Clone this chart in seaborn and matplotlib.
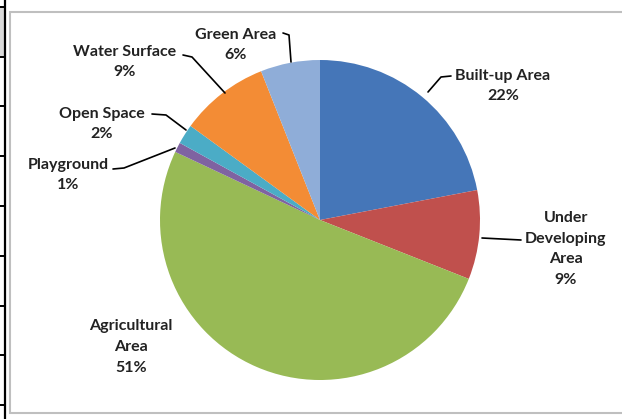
import matplotlib
matplotlib.use("Agg")
import matplotlib.pyplot as plt
from matplotlib.patches import Rectangle
from matplotlib.lines import Line2D
import seaborn as sns

# data
categories = ["Built-up Area", "Under Developing Area", "Agricultural Area", "Playground",
              "Open Space", "Water Surface", "Green Area"]
shares = [22, 9, 51, 1, 2, 9, 6]
slice_colors = ["#4576b8", "#c0504d", "#98ba55", "#7f63a1", "#4bacc6", "#f38c35", "#8fadd8"]

W, H = 622, 419
CX, CY, R = 320, 220, 160


def to_data(px, py):
    # pixel position in the picture -> pie axes coordinates
    return (px - CX) / R, (CY - py) / R


def main():
    sns.set_theme(style="white")
    plt.rcParams['font.family'] = ['Lato', 'DejaVu Sans']

    fig = plt.figure(figsize=(W / 100, H / 100), dpi=100)
    fig.patch.set_facecolor("white")

    # fragment of the table at the left edge
    fig.patches.append(Rectangle((0, 1 - 57 / H), 5 / W, 50 / H, transform=fig.transFigure,
                                 facecolor="#d9d9d9", edgecolor="none", zorder=-3))
    fig.lines.append(Line2D([5 / W, 5 / W], [0, 1], transform=fig.transFigure, color="black", lw=1.6))
    for y in [7, 57, 106, 156, 206, 256, 306, 355, 405]:
        fig.lines.append(Line2D([0, 5 / W], [1 - y / H, 1 - y / H], transform=fig.transFigure,
                                color="black", lw=1.4))

    # chart frame
    fig.patches.append(Rectangle((10 / W, 6 / H), 1.02 - 10 / W, 1 - 18 / H, transform=fig.transFigure,
                                 facecolor="white", edgecolor="#bfbfbf", lw=1.5, zorder=-2))

    ax = fig.add_axes([(CX - R) / W, (H - CY - R) / H, 2 * R / W, 2 * R / H])
    ax.set_zorder(2)
    ax.patch.set_alpha(0)
    ax.pie(shares, colors=slice_colors, startangle=90, counterclock=False, radius=1,
           wedgeprops=dict(linewidth=0))
    ax.set_xlim(-1, 1)
    ax.set_ylim(-1, 1)
    ax.set_aspect("equal")
    ax.axis("off")

    labels = [
        ("Built-up Area\n22%", (503, 86), [(451, 76), (441, 77), (428, 92)]),
        ("Under\nDeveloping\nArea\n9%", (566, 249), [(521, 240), (482, 238)]),
        ("Agricultural\nArea\n51%", (131, 347), None),
        ("Playground\n1%", (68, 175), [(113, 169), (124, 168), (175, 148)]),
        ("Open Space\n2%", (102, 124), [(152, 114), (166, 115), (186, 130)]),
        ("Water Surface\n9%", (125, 62), [(183, 55), (192, 57), (225, 93)]),
        ("Green Area\n6%", (236, 45), [(283, 33), (289, 35), (291, 62)]),
    ]
    for text, pos, leader in labels:
        x, y = to_data(*pos)
        ax.text(x, y, text, ha="center", va="center", fontsize=11.5, fontweight="bold",
                color="#222222", linespacing=1.6, clip_on=False)
        if leader:
            xs, ys = zip(*[to_data(*p) for p in leader])
            ax.plot(xs, ys, color="black", lw=1.2, clip_on=False)

    fig.savefig("out.png", dpi=100)
    plt.close(fig)


if __name__ == "__main__":
    main()
